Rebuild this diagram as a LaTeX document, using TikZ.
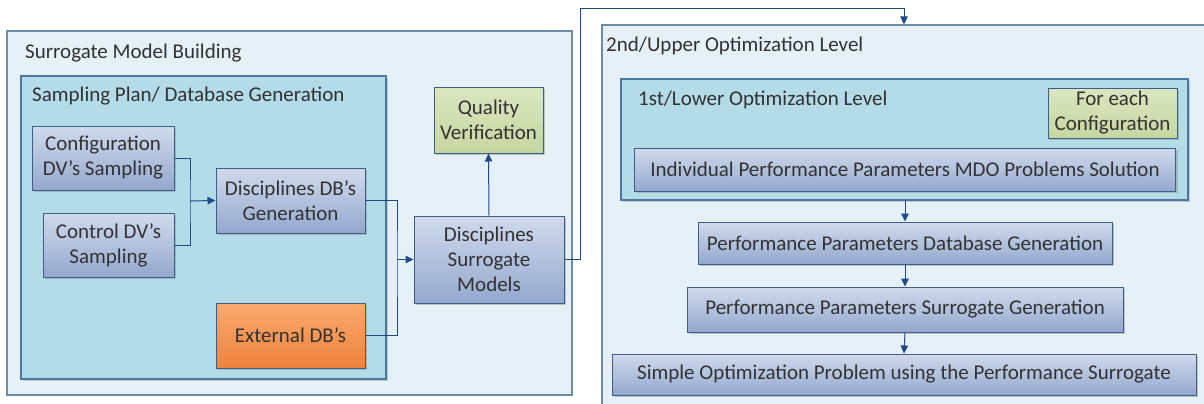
\documentclass[tikz,border=0pt]{standalone}
\usepackage{fontspec}
\setmainfont{Carlito}
\usepackage{xcolor}
\usetikzlibrary{arrows.meta, positioning, calc, shadows}
\definecolor{FrameLine}{RGB}{110, 140, 168}
\definecolor{FrameBg}{RGB}{229, 241, 247}
\definecolor{GroupLine}{RGB}{75, 120, 158}
\definecolor{GroupBg}{RGB}{180, 220, 232}
\definecolor{StepTop}{RGB}{208, 218, 236}
\definecolor{StepBot}{RGB}{148, 168, 206}
\definecolor{StepLine}{RGB}{62, 94, 136}
\definecolor{NoteTop}{RGB}{218, 230, 192}
\definecolor{NoteBot}{RGB}{198, 214, 160}
\definecolor{ExtTop}{RGB}{250, 170, 110}
\definecolor{ExtBot}{RGB}{238, 130, 60}
\definecolor{ArrowBlue}{RGB}{30, 75, 135}
\definecolor{TextGray}{RGB}{50, 50, 50}

\begin{document}
\begin{tikzpicture}[x=1pt, y=-1pt,
    font=\fontsize{21}{25}\selectfont, text=TextGray,
    frame/.style={draw=FrameLine, line width=1.2pt, fill=FrameBg, inner sep=0pt},
    group/.style={draw=GroupLine, line width=1.2pt, fill=GroupBg, inner sep=0pt,
        drop shadow={shadow xshift=1.5pt, shadow yshift=-1.5pt, opacity=0.35}},
    stepbox/.style={draw=StepLine, line width=1pt, top color=StepTop, bottom color=StepBot,
        align=center, inner sep=2pt,
        drop shadow={shadow xshift=2pt, shadow yshift=-2pt, opacity=0.4}},
    notebox/.style={stepbox, top color=NoteTop, bottom color=NoteBot},
    extbox/.style={stepbox, top color=ExtTop, bottom color=ExtBot},
    title/.style={anchor=west, inner sep=0pt},
    link/.style={draw=ArrowBlue, line width=1pt},
    arrow/.style={link, -{Triangle[length=8pt, width=7.5pt]}}]
    \useasboundingbox (0,0) rectangle (1204,404);
    \clip (0,0) rectangle (1204,404);

    % left block: surrogate building
    \node[frame, minimum width=565, minimum height=364] (build) at (289.5,213) {};
    \node[title] (buildT) at (25,53) {Surrogate Model Building};
    \node[group, minimum width=365, minimum height=303] (sampling) at (203.5,227.5) {};
    \node[title] (samplingT) at (32,96) {Sampling Plan/ Database Generation};

    \node[stepbox, minimum width=142, minimum height=64] (config) at (103,158) {Configuration\\DV’s Sampling};
    \node[stepbox, minimum width=131, minimum height=64] (control) at (108.5,245) {Control DV’s\\Sampling};
    \node[stepbox, minimum width=149, minimum height=65] (dbgen) at (290.5,200.5) {Disciplines DB’s\\Generation};
    \node[extbox, minimum width=149, minimum height=65] (external) at (290.5,335.5) {External DB’s};
    \node[stepbox, minimum width=150, minimum height=87] (surr) at (489,259.5) {Disciplines\\Surrogate\\Models};
    \node[notebox, minimum width=109, minimum height=66] (quality) at (488.5,120) {Quality\\Verification};

    % junctions
    \coordinate (j1) at (190,201);
    \coordinate (j2) at (397,259.5);
    \draw[link] (config.east) -| (j1) |- (control.east);
    \draw[arrow] (j1) -- (dbgen.west);
    \draw[link] (dbgen.east) -| (j2) |- (external.east);
    \draw[arrow] (j2) -- (surr.west);
    \draw[arrow] (surr.north) -- (quality.south);

    % right block: two optimization levels
    \node[frame, minimum width=604, minimum height=395] (upper) at (904,222.5) {};
    \node[title] (upperT) at (606,46) {2nd/Upper Optimization Level};
    \node[group, minimum width=567, minimum height=121] (lower) at (904.5,139.5) {};
    \node[title] (lowerT) at (638,100) {1st/Lower Optimization Level};
    \node[notebox, minimum width=129, minimum height=50] (foreach) at (1112.5,113) {For each\\Configuration};
    \node[stepbox, minimum width=541, minimum height=43] (indiv) at (905,169.5) {Individual Performance Parameters MDO Problems Solution};

    \node[stepbox, minimum width=414, minimum height=42] (ppdb) at (905,243) {Performance Parameters Database Generation};
    \node[stepbox, minimum width=436, minimum height=45] (ppsurr) at (905,309.5) {Performance Parameters Surrogate Generation};
    \node[stepbox, minimum width=584, minimum height=41] (simple) at (904,374.5) {Simple Optimization Problem using the Performance Surrogate};

    \draw[arrow] (lower.south -| ppdb.north) -- (ppdb.north);
    \draw[arrow] (ppdb.south) -- (ppsurr.north);
    \draw[arrow] (ppsurr.south) -- (simple.north);

    % link between blocks
    \coordinate (c1) at (580,9);
    \draw[arrow] (surr.east) -| (c1) -| (upper.north);
\end{tikzpicture}
\end{document}
